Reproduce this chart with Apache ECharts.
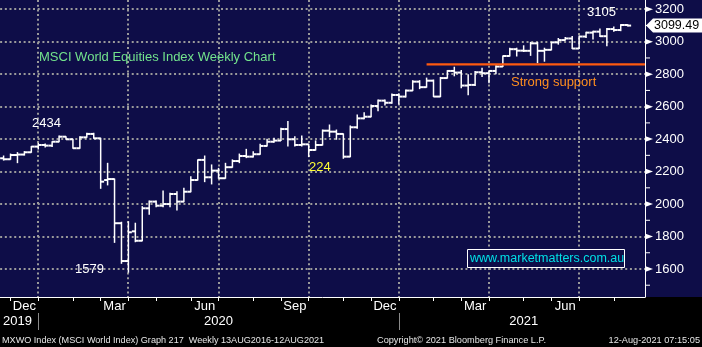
<!DOCTYPE html>
<html><head><meta charset="utf-8">
<script src="https://cdn.jsdelivr.net/npm/echarts@6.0.0/dist/echarts.min.js"></script>
<style>html,body{margin:0;padding:0;background:#000;}#c{width:702px;height:347px;}</style>
</head><body><div id="c"></div>
<script>
// ---- data ----
const weeks = [
 '2019-11-22','2019-11-29','2019-12-06','2019-12-13','2019-12-20','2019-12-27',
 '2020-01-03','2020-01-10','2020-01-17','2020-01-24','2020-01-31',
 '2020-02-07','2020-02-14','2020-02-21','2020-02-28',
 '2020-03-06','2020-03-13','2020-03-20','2020-03-27',
 '2020-04-03','2020-04-10','2020-04-17','2020-04-24',
 '2020-05-01','2020-05-08','2020-05-15','2020-05-22','2020-05-29',
 '2020-06-05','2020-06-12','2020-06-19','2020-06-26',
 '2020-07-03','2020-07-10','2020-07-17','2020-07-24','2020-07-31',
 '2020-08-07','2020-08-14','2020-08-21','2020-08-28',
 '2020-09-04','2020-09-11','2020-09-18','2020-09-25',
 '2020-10-02','2020-10-09','2020-10-16','2020-10-23','2020-10-30',
 '2020-11-06','2020-11-13','2020-11-20','2020-11-27',
 '2020-12-04','2020-12-11','2020-12-18','2020-12-25',
 '2021-01-01','2021-01-08','2021-01-15','2021-01-22','2021-01-29',
 '2021-02-05','2021-02-12','2021-02-19','2021-02-26',
 '2021-03-05','2021-03-12','2021-03-19','2021-03-26',
 '2021-04-02','2021-04-09','2021-04-16','2021-04-23','2021-04-30',
 '2021-05-07','2021-05-14','2021-05-21','2021-05-28',
 '2021-06-04','2021-06-11','2021-06-18','2021-06-25',
 '2021-07-02','2021-07-09','2021-07-16','2021-07-23','2021-07-30',
 '2021-08-06','2021-08-13','2021-08-20','2021-08-27'
];
const openP = [2282,2276,2302,2305,2319,2354,2364,2360,2384,2415,2399,2344,2411,2432,2405,2148,2154,1882,1649,1832,
 1774,1974,2015,1990,2000,2062,2015,2076,2148,2272,2165,2206,2159,2227,2265,2296,2292,2307,2358,2384,
 2391,2462,2399,2364,2368,2333,2364,2452,2446,2432,2292,2473,2528,2538,2604,2637,2624,2672,2662,2699,
 2754,2720,2760,2662,2776,2820,2810,2730,2734,2812,2806,2820,2847,2912,2954,2945,2944,2990,2944,2950,
 2996,3010,3020,2958,3032,3056,3062,3034,3078,3072,3103];
const highP = [2296,2308,2317,2323,2354,2374,2370,2384,2419,2415,2399,2415,2436,2436,2405,2251,2154,1888,1891,1882,
 1984,2019,2019,2080,2066,2076,2097,2169,2272,2296,2241,2220,2251,2272,2308,2337,2323,2368,2399,2405,
 2467,2508,2415,2420,2368,2389,2456,2487,2456,2432,2481,2549,2563,2610,2641,2641,2678,2680,2703,2760,
 2760,2776,2764,2780,2822,2843,2822,2797,2816,2836,2820,2852,2912,2960,2960,2975,2996,2996,2960,2996,
 3020,3026,3032,3036,3059,3065,3078,3082,3090,3105,3105];
const lowP = [2271,2276,2255,2302,2319,2339,2352,2354,2384,2399,2344,2344,2411,2405,2097,2118,1764,1635,1580,1768,
 1774,1937,1984,1984,1984,1963,2015,2076,2148,2138,2124,2159,2159,2227,2255,2286,2290,2307,2358,2381,
 2391,2358,2358,2358,2292,2333,2364,2415,2399,2282,2292,2467,2526,2538,2575,2610,2621,2617,2660,2699,
 2711,2720,2662,2662,2776,2790,2717,2674,2730,2785,2748,2803,2847,2912,2912,2940,2916,2871,2880,2950,
 2985,3010,2958,2958,3026,3016,3032,2975,3065,3068,3097];
const closeP = [2276,2302,2305,2319,2354,2364,2360,2384,2415,2399,2344,2411,2432,2405,2138,2154,1882,1649,1826,1774,
 1974,2015,1990,2000,2062,2015,2076,2148,2272,2165,2206,2159,2227,2265,2296,2292,2307,2358,2384,2391,
 2462,2399,2364,2368,2333,2364,2452,2446,2432,2292,2473,2528,2538,2604,2637,2624,2672,2662,2699,2754,
 2720,2760,2662,2776,2820,2810,2730,2734,2812,2806,2820,2847,2912,2954,2945,2944,2990,2944,2950,2996,
 3010,3020,2958,3032,3056,3062,3034,3078,3072,3103,3099.49];

const yTickValues = [1600,1800,2000,2200,2400,2600,2800,3000,3200];
const yMinorValues = [1500,1700,1900,2100,2300,2500,2700,2900,3100];
const monthLabelText = ['Dec','Mar','Jun','Sep','Dec','Mar','Jun'];
const monthLabelWeeks = ['2019-12-13','2020-03-13','2020-06-12','2020-09-11','2020-12-11','2021-03-12','2021-06-11'];
const yearLabelText = ['2019','2020','2021'];
const yearLabelWeeks = ['2019-12-06','2020-06-26','2021-04-30'];
const yearSepWeeks = ['2019-12-27','2020-12-25'];
const gridWeeks = ['2019-12-27','2020-03-27','2020-06-26','2020-09-25','2020-12-25','2021-03-26','2021-06-25'];
const supportLevel = 2861;
const supportStartWeek = '2021-01-22';

// ---- styling ----
const NAVY = '#0e0d48';
const FONT = 'Liberation Sans, Arial, sans-serif';
const GRIDC = '#9a9a9a';

const idxOf = d => weeks.indexOf(d);
const monthEnds = new Set();
for (let i = 0; i < weeks.length - 1; i++) if (weeks[i].slice(5,7) !== weeks[i+1].slice(5,7)) monthEnds.add(i);
const monthLabelMap = {}; monthLabelWeeks.forEach((d,k) => monthLabelMap[idxOf(d)] = monthLabelText[k]);
const yearLabelMap = {}; yearLabelWeeks.forEach((d,k) => yearLabelMap[idxOf(d)] = yearLabelText[k]);
const yearSepSet = new Set(yearSepWeeks.map(idxOf));
const ohlc = openP.map((o,i) => [i, o, highP[i], lowP[i], closeP[i]]);

const chart = echarts.init(document.getElementById('c'), null, {renderer:'canvas'});
chart.setOption({
  animation: false,
  backgroundColor: '#000',
  grid: {left:0, right:57, top:0, bottom:50, containLabel:false},
  xAxis: [{
    type:'category', data: weeks, boundaryGap:true,
    axisLine:{show:true, lineStyle:{color:'#fff', width:1}},
    axisTick:{show:true, alignWithLabel:true, interval:(i)=>monthEnds.has(i), length:4, lineStyle:{color:'#fff'}},
    axisLabel:{interval:(i)=>(i in monthLabelMap), formatter:(v,i)=>monthLabelMap[i]||'', color:'#fff', fontSize:13, fontFamily:FONT, margin:3},
    splitLine:{show:false}
  },{
    type:'category', data: weeks, boundaryGap:true, position:'bottom', offset:16,
    axisLine:{show:false},
    axisTick:{show:true, alignWithLabel:true, interval:(i)=>yearSepSet.has(i), length:17, lineStyle:{color:'#8a8a8a'}},
    axisLabel:{interval:(i)=>(i in yearLabelMap), formatter:(v,i)=>yearLabelMap[i]||'', color:'#fff', fontSize:13, fontFamily:FONT, margin:2},
    splitLine:{show:false}
  }],
  yAxis: {
    type:'value', position:'right', min:1427.5, max:3257,
    axisLine:{show:true, lineStyle:{color:'#fff', width:1}},
    axisTick:{show:false}, splitLine:{show:false},
    axisLabel:{customValues: yTickValues, formatter:(v)=>String(v), color:'#fff', fontSize:13, fontFamily:FONT, margin:10}
  },
  series: [
    { type:'custom', name:'hgrid', z:1, silent:true, data: yTickValues.map(v=>[0,v]), encode:{x:0,y:1},
      renderItem:(params, api) => {
        const cs = params.coordSys; const y = Math.round(api.coord([0, api.value(1)])[1]);
        return {type:'line', shape:{x1:cs.x, y1:y, x2:cs.x+cs.width, y2:y}, style:{stroke:GRIDC, lineWidth:2, lineDash:[2,2.7]}};
      }},
    { type:'custom', name:'vgrid', z:1, silent:true, data: gridWeeks.map(d=>[idxOf(d), 2000]), encode:{x:0,y:1},
      renderItem:(params, api) => {
        const cs = params.coordSys; const x = Math.round(api.coord([api.value(0), 2000])[0]);
        return {type:'line', shape:{x1:x, y1:cs.y, x2:x, y2:cs.y+cs.height}, style:{stroke:GRIDC, lineWidth:2, lineDash:[2,2.7]}};
      }},
    { type:'custom', name:'ohlc', z:3, data: ohlc, encode:{x:0, y:[1,2,3,4]},
      renderItem:(params, api) => {
        const i = api.value(0);
        const pO = api.coord([i, api.value(1)]), pH = api.coord([i, api.value(2)]);
        const pL = api.coord([i, api.value(3)]), pC = api.coord([i, api.value(4)]);
        const half = api.size([1,0])[0] / 2;
        const st = {stroke:'#fff', lineWidth:2};
        return {type:'group', children:[
          {type:'line', shape:{x1:pH[0], y1:pH[1]-0.5, x2:pL[0], y2:pL[1]+0.5}, style:{stroke:'#fff', lineWidth:1.5}},
          {type:'line', shape:{x1:pO[0]-half, y1:pO[1], x2:pO[0], y2:pO[1]}, style:st},
          {type:'line', shape:{x1:pC[0], y1:pC[1], x2:pC[0]+half, y2:pC[1]}, style:st}
        ]};
      }},
    { type:'custom', name:'support', z:4, silent:true, data: [[idxOf(supportStartWeek), supportLevel]], encode:{x:0,y:1},
      renderItem:(params, api) => {
        const cs = params.coordSys; const p = api.coord([api.value(0), api.value(1)]);
        return {type:'line', shape:{x1:p[0], y1:p[1], x2:cs.x+cs.width, y2:p[1]}, style:{stroke:'#ff5a0f', lineWidth:2.2}};
      }},
    { type:'custom', name:'ymarks', z:5, silent:true, clip:false,
      data: yTickValues.map(v=>[0,v,1]).concat(yMinorValues.map(v=>[0,v,0])), encode:{x:0,y:1},
      renderItem:(params, api) => {
        const cs = params.coordSys; const X = cs.x + cs.width; const y = api.coord([0, api.value(1)])[1];
        if (api.value(2) === 1) {
          return {type:'polygon', shape:{points:[[X, y-3],[X+8, y],[X, y+3]]}, style:{fill:'#fff'}};
        }
        return {type:'line', shape:{x1:X, y1:y, x2:X+5, y2:y}, style:{stroke:'#fff', lineWidth:1}};
      }}
  ]
});

const py = chart.convertToPixel({yAxisIndex:0}, closeP[closeP.length-1]);
const txt = (text, x, y, fill, size, align) => ({type:'text', x:x, y:y, silent:true, z:20,
  style:{text:text, fill:fill, font: size + 'px ' + FONT, align: align||'left', verticalAlign:'middle'}});
chart.setOption({
  graphic: [
    {type:'rect', shape:{x:0, y:0, width:702, height:297}, style:{fill:NAVY}, z:-10, silent:true},
    txt('MSCI World Equities Index Weekly Chart', 39, 57, '#72e28c', 13),
    txt('2434', 32, 123, '#ffffff', 13),
    txt('1579', 75, 269, '#ffffff', 13),
    txt('224', 309, 167, '#ffff33', 13),
    txt('3105', 587, 12, '#ffffff', 13),
    txt('Strong support', 511, 82, '#ff8f1f', 13),
    {type:'rect', shape:{x:467.5, y:249.5, width:157, height:18}, style:{fill:NAVY, stroke:'#ffffff', lineWidth:1}, z:20, silent:true},
    txt('www.marketmatters.com.au', 470, 259, '#00e0e6', 12.5),
    {type:'polygon', shape:{points:[[646, py],[653, py-7],[702, py-7],[702, py+7],[653, py+7]]}, style:{fill:'#ffffff'}, z:20, silent:true},
    txt(closeP[closeP.length-1].toFixed(2), 654, py, '#000000', 12.5),
    txt('MXWO Index (MSCI World Index) Graph 217  Weekly 13AUG2016-12AUG2021', 2, 340, '#e6e6e6', 9.1),
    txt('Copyright\u00A9 2021 Bloomberg Finance L.P.', 377, 340, '#e6e6e6', 9.2),
    txt('12-Aug-2021 07:15:05', 700, 340, '#e6e6e6', 9.2, 'right')
  ]
});
</script>
</body></html>
